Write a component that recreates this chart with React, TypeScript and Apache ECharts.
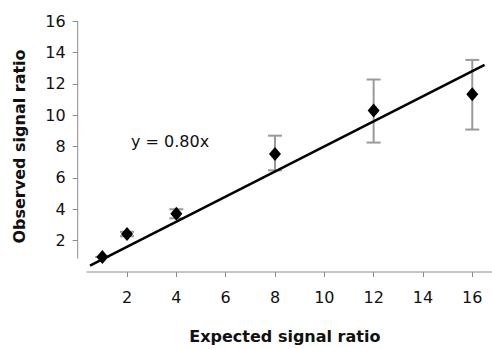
import React, { useEffect, useRef } from "react";
import * as echarts from "echarts";

const expected = [1, 2, 4, 8, 12, 16];
const observed = [0.96, 2.42, 3.71, 7.52, 10.29, 11.33];
const errLow = [0.96, 2.28, 3.42, 6.48, 8.25, 9.08];
const errHigh = [0.96, 2.56, 4.0, 8.69, 12.27, 13.52];
const fitLine = [
  [0.5, 0.4],
  [16.5, 13.2],
];
const xTicks = [2, 4, 6, 8, 10, 12, 14, 16];
const yTicks = [2, 4, 6, 8, 10, 12, 14, 16];
const xAxisLine = [
  [0.36, 0],
  [16.8, 0],
];
const yAxisLine = [
  [0, 0.85],
  [0, 16],
];
const equationText = "y = 0.80x";

const FONT = "'DejaVu Sans', 'Liberation Sans', Arial, sans-serif";
const AXIS_GRAY = "#8c8c8c";

export default function App() {
  const ref = useRef<HTMLDivElement>(null);
  useEffect(() => {
    if (!ref.current) return;
    const chart = echarts.init(ref.current, null, { renderer: "svg" });
    const errData = expected.map((x, i) => [x, errLow[i], errHigh[i]]);
    chart.setOption({
      animation: false,
      backgroundColor: "#fff",
      grid: { left: 77.7, top: 21, right: 0, bottom: 72, containLabel: false },
      xAxis: {
        type: "value",
        min: 0,
        max: 16.8,
        interval: 2,
        axisLine: { show: false },
        splitLine: { show: false },
        axisTick: {
          show: true,
          inside: false,
          length: 5,
          customValues: xTicks,
          lineStyle: { color: AXIS_GRAY },
        },
        axisLabel: {
          customValues: xTicks,
          margin: 17,
          fontSize: 16,
          color: "#111",
          fontFamily: FONT,
        },
        name: "Expected signal ratio",
        nameLocation: "middle",
        nameGap: 56,
        nameTextStyle: { fontSize: 16, fontWeight: "bold", color: "#111", fontFamily: FONT },
      },
      yAxis: {
        type: "value",
        min: 0,
        max: 16,
        interval: 2,
        axisLine: { show: false },
        splitLine: { show: false },
        axisTick: {
          show: true,
          length: 5,
          customValues: yTicks,
          lineStyle: { color: AXIS_GRAY },
        },
        axisLabel: {
          customValues: yTicks,
          margin: 12,
          fontSize: 16,
          color: "#111",
          fontFamily: FONT,
        },
        name: "Observed signal ratio",
        nameLocation: "middle",
        nameGap: 50,
        nameRotate: 90,
        nameTextStyle: { fontSize: 16, fontWeight: "bold", color: "#111", fontFamily: FONT },
      },
      series: [
        {
          type: "line",
          data: xAxisLine,
          symbol: "none",
          silent: true,
          clip: false,
          lineStyle: { color: AXIS_GRAY, width: 1 },
        },
        {
          type: "line",
          data: yAxisLine,
          symbol: "none",
          silent: true,
          clip: false,
          lineStyle: { color: AXIS_GRAY, width: 1 },
        },
        {
          type: "line",
          data: fitLine,
          symbol: "none",
          silent: true,
          clip: false,
          lineStyle: { color: "#000", width: 2.5 },
          z: 3,
        },
        {
          type: "custom",
          data: errData,
          z: 2,
          renderItem: (params: any, api: any) => {
            const x = api.value(0);
            const lo = api.coord([x, api.value(1)]);
            const hi = api.coord([x, api.value(2)]);
            const half = 7;
            const style = { stroke: "#9a9a9a", lineWidth: 2 };
            return {
              type: "group",
              children: [
                { type: "line", shape: { x1: lo[0], y1: lo[1], x2: hi[0], y2: hi[1] }, style },
                { type: "line", shape: { x1: lo[0] - half, y1: lo[1], x2: lo[0] + half, y2: lo[1] }, style },
                { type: "line", shape: { x1: hi[0] - half, y1: hi[1], x2: hi[0] + half, y2: hi[1] }, style },
              ],
            };
          },
        },
        {
          type: "scatter",
          data: expected.map((x, i) => [x, observed[i]]),
          symbol: "diamond",
          symbolSize: [12, 14],
          itemStyle: { color: "#000", opacity: 1 },
          z: 4,
        },
      ],
      graphic: [
        {
          type: "text",
          left: 131,
          top: 133,
          style: { text: equationText, fontSize: 16, fill: "#111", fontFamily: FONT },
        },
      ],
    });
    return () => chart.dispose();
  }, []);
  return (
    <div
      ref={ref}
      style={{ position: "absolute", left: 0, top: 0, width: 492, height: 349 }}
    />
  );
}
